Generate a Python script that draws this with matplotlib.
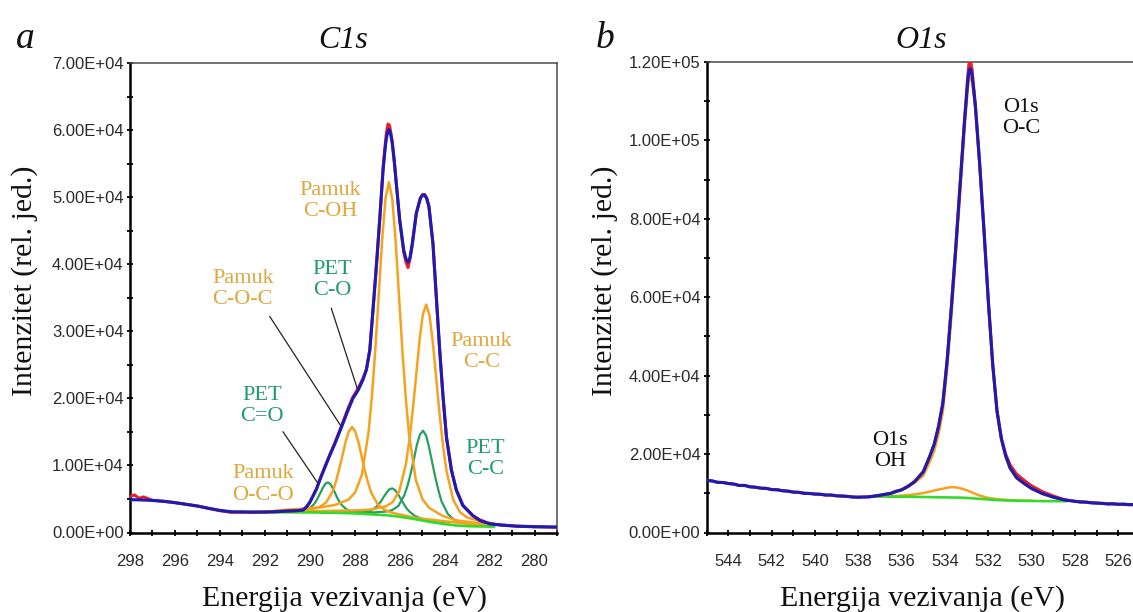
import matplotlib
matplotlib.use("Agg")
import matplotlib.pyplot as plt
from matplotlib.ticker import MultipleLocator, FormatStrFormatter

# ---------------- C1s region ----------------
c1s_env_e = [298.0, 297.5, 297.0, 296.5, 296.0, 295.5, 295.0, 294.5, 294.0, 293.5, 293.0,
             292.5, 292.0, 291.5, 291.0, 290.6, 290.3, 290.15, 290.0, 289.85, 289.7, 289.56,
             289.33, 289.11, 288.89, 288.59, 288.3, 288.08, 287.85, 287.63, 287.48, 287.33,
             287.19, 287.04, 286.89, 286.74, 286.65, 286.59, 286.53, 286.48, 286.41, 286.33,
             286.24, 286.15, 286.0, 285.82, 285.72, 285.63, 285.54, 285.44, 285.26, 285.08,
             284.98, 284.89, 284.8, 284.7, 284.52, 284.37, 284.22, 284.07, 283.92, 283.7,
             283.48, 283.19, 282.74, 282.44, 282.0, 281.5, 280.8, 280.0, 279.0]
c1s_env_i = [4900, 4850, 4780, 4650, 4450, 4200, 3950, 3600, 3300, 3100, 3050,
             3050, 3050, 3100, 3200, 3250, 3350, 3800, 4500, 5500, 6500, 7800,
             9700, 11500, 13200, 15700, 18200, 20000, 21200, 22800, 24300, 27200,
             33100, 39600, 46600, 54000, 57200, 58800, 59800, 60100, 59500, 58000,
             55300, 52000, 46600, 42100, 40800, 40300, 41000, 43100, 47600, 49800,
             50300, 50300, 49800, 48600, 43100, 35100, 27200, 20200, 14200, 9300,
             6300, 4000, 2500, 1800, 1300, 1100, 940, 850, 800]

c1s_raw_e = [298.0, 297.8, 297.6, 297.4, 297.0, 296.5, 296.0, 295.5, 295.0, 294.5, 294.0,
             293.5, 293.0, 292.5, 292.0, 291.5, 291.0, 290.6, 290.3, 290.15, 290.0, 289.85,
             289.7, 289.56, 289.33, 289.11, 288.89, 288.59, 288.3, 288.08, 287.85, 287.63,
             287.48, 287.33, 287.19, 287.04, 286.89, 286.74, 286.65, 286.59, 286.52, 286.45,
             286.33, 286.24, 286.15, 286.0, 285.82, 285.72, 285.63, 285.54, 285.44, 285.26,
             285.08, 284.98, 284.89, 284.8, 284.7, 284.52, 284.37, 284.22, 284.07, 283.92,
             283.7, 283.48, 283.19, 282.74, 282.44, 282.0, 281.5, 280.8, 280.0, 279.0]
c1s_raw_i = [5400, 5600, 5100, 5300, 4800, 4650, 4450, 4200, 3950, 3600, 3250,
             3000, 3050, 3000, 3050, 3100, 3200, 3250, 3350, 3800, 4500, 5500,
             6500, 7800, 9800, 11600, 13300, 15900, 18500, 20200, 21500, 23000,
             24300, 27200, 33100, 39600, 46600, 54300, 57600, 59600, 60900, 60700,
             58300, 55400, 52000, 46600, 41800, 40300, 39500, 40800, 42800, 47600,
             49900, 50400, 50400, 49900, 48700, 43100, 35100, 27200, 20200, 14300,
             9400, 6400, 4100, 2500, 1900, 1300, 1150, 950, 880, 800]

c1s_bg_e = [293.1, 292.0, 291.0, 290.0, 289.0, 288.5, 288.0, 287.5, 287.0, 286.5, 286.0,
            285.5, 285.0, 284.5, 284.0, 283.5, 283.0, 282.5, 281.8]
c1s_bg_i = [3100, 3050, 3000, 3000, 2950, 2900, 2850, 2750, 2650, 2550, 2350,
            2100, 1800, 1500, 1250, 1050, 950, 900, 880]

# PET components
pet_co2_e = [291.5, 291.33, 290.9, 290.48, 290.26, 290.05, 289.84, 289.73, 289.63, 289.52,
             289.41, 289.31, 289.2, 289.09, 288.99, 288.88, 288.78, 288.67, 288.56, 288.35,
             288.14, 287.93, 287.5, 287.08]
pet_co2_i = [3050, 3070, 3110, 3180, 3280, 3530, 4120, 4620, 5250, 5980,
             6700, 7260, 7470, 7240, 6660, 5920, 5180, 4530, 4030, 3410,
             3150, 3020, 2860, 2730]

pet_co_e = [289.5, 288.83, 288.33, 287.83, 287.58, 287.33, 287.08, 286.96, 286.83, 286.71,
            286.58, 286.46, 286.33, 286.21, 286.08, 285.96, 285.83, 285.71, 285.58, 285.33,
            285.08, 284.83, 284.33, 283.83]
pet_co_i = [3010, 3000, 2970, 2980, 3020, 3200, 3690, 4110, 4670, 5310,
            5950, 6430, 6580, 6330, 5760, 5040, 4320, 3680, 3160, 2480,
            2130, 1870, 1510, 1250]

pet_cc_e = [290.5, 287.71, 287.16, 286.61, 286.34, 286.06, 285.79, 285.65, 285.51, 285.37,
            285.24, 285.10, 284.96, 284.82, 284.69, 284.55, 284.41, 284.27, 284.14, 283.86,
            283.59, 283.31, 282.76, 282.21]
pet_cc_i = [3060, 3000, 3000, 3120, 3330, 3950, 5580, 6990, 8810, 10890,
            13000, 14600, 15180, 14430, 12670, 10400, 8160, 6200, 4660, 2770,
            1930, 1560, 1240, 1090]

# Cotton (Pamuk) components
pam_coc_e = [291.5, 291.0, 290.42, 289.85, 289.56, 289.27, 288.98, 288.84, 288.70, 288.55,
             288.41, 288.26, 288.12, 287.98, 287.83, 287.69, 287.55, 287.40, 287.26, 286.97,
             286.68, 286.40, 285.82, 285.25, 282.0]
pam_coc_i = [3140, 3200, 3300, 3530, 3810, 4490, 6150, 7540, 9350, 11420,
             13490, 15100, 15710, 15070, 13420, 11300, 9190, 7340, 5900, 4150,
             3400, 3000, 2560, 2150, 930]

pam_coh_e = [291.5, 289.48, 288.88, 288.28, 287.98, 287.68, 287.38, 287.23, 287.08, 286.93,
             286.78, 286.63, 286.48, 286.33, 286.18, 286.03, 285.88, 285.73, 285.58, 285.28,
             284.98, 284.68, 284.08, 283.48, 282.2]
pam_coh_i = [3280, 3765, 4110, 4896, 5976, 8626, 15100, 20540, 27520, 35540,
             43610, 49840, 52240, 49740, 43420, 35260, 27140, 20060, 14520, 7810,
             4920, 3650, 2460, 1810, 1260]

pam_cc_e = [290.4, 287.82, 287.22, 286.62, 286.32, 286.02, 285.72, 285.57, 285.42, 285.27,
            285.12, 284.97, 284.82, 284.67, 284.52, 284.37, 284.22, 284.07, 283.92, 283.62,
            283.32, 283.02, 282.42, 281.82]
pam_cc_i = [3150, 3310, 3450, 3900, 4510, 6150, 10250, 13730, 18200, 23340,
            28520, 32500, 33990, 32320, 28160, 22820, 17510, 12880, 9260, 4890,
            3050, 2280, 1660, 1380]

# ---------------- O1s region ----------------
o1s_env_e = [545.0, 544.75, 544.5, 544.25, 544.0, 543.75, 543.5, 543.25, 543.0, 542.75,
             542.5, 542.25, 542.0, 541.75, 541.5, 541.25, 541.0, 540.75, 540.5, 540.25,
             540.0, 539.75, 539.5, 539.25, 539.0, 538.75, 538.5, 538.25, 538.0, 537.5,
             537.0, 536.5, 536.0, 535.7, 535.4, 535.0, 534.7, 534.5, 534.3, 534.1, 533.9,
             533.7, 533.5, 533.3, 533.1, 532.95, 532.9, 532.85, 532.8, 532.75, 532.6, 532.4,
             532.2, 532.0, 531.8, 531.6, 531.4, 531.2, 531.0, 530.7, 530.3, 530.0, 529.5,
             529.0, 528.5, 528.0, 527.75, 527.5, 527.25, 527.0, 526.75, 526.5, 526.25, 526.0,
             525.75, 525.5, 525.25, 525.0]
o1s_env_i = [13300, 13150, 12800, 12750, 12500, 12350, 12000, 12000, 11650, 11550,
             11300, 11250, 10950, 10900, 10650, 10550, 10300, 10250, 10000, 9950,
             9800, 9750, 9550, 9550, 9350, 9300, 9200, 9050, 9000, 9100,
             9500, 10000, 10900, 11800, 13000, 15500, 19500, 22500, 27000, 33000, 44000,
             58000, 73000, 89000, 105000, 115000, 117300, 118300, 118000, 116500, 109000, 94000,
             77000, 59000, 43000, 31000, 24000, 19500, 16500, 14000, 12300, 11200, 9900,
             9000, 8300, 7950, 7750, 7750, 7550, 7500, 7450, 7300, 7350, 7200,
             7250, 7100, 7150, 7000]

o1s_raw_e = [545.0, 544.75, 544.5, 544.25, 544.0, 543.75, 543.5, 543.25, 543.0, 542.75,
             542.5, 542.25, 542.0, 541.75, 541.5, 541.25, 541.0, 540.75, 540.5, 540.25,
             540.0, 539.75, 539.5, 539.25, 539.0, 538.75, 538.5, 538.25, 538.0, 537.5,
             537.0, 536.5, 536.3, 536.0, 535.7, 535.4, 535.0, 534.7, 534.5, 534.3, 534.1,
             533.9, 533.7, 533.5, 533.3, 533.1, 532.95, 532.9, 532.85, 532.8, 532.75, 532.6,
             532.4, 532.2, 532.0, 531.8, 531.6, 531.4, 531.2, 531.0, 530.7, 530.3, 530.0,
             529.5, 529.0, 528.5, 528.0, 527.5, 527.0, 526.5, 526.0, 525.5, 525.0]
o1s_raw_i = [13300, 13150, 12800, 12750, 12500, 12350, 12000, 12000, 11650, 11550,
             11300, 11250, 10950, 10900, 10650, 10550, 10300, 10250, 10000, 9950,
             9800, 9750, 9550, 9550, 9350, 9300, 9200, 9050, 9000, 9100,
             9500, 10000, 10500, 10900, 11800, 13000, 15500, 19500, 22500, 27000, 33000,
             44000, 58000, 73000, 89000, 105000, 116500, 119300, 120500, 119600, 118000, 109000,
             94000, 77000, 59000, 43000, 31000, 24000, 20000, 17300, 14900, 13100, 11900,
             10400, 9300, 8400, 7950, 7750, 7500, 7300, 7200, 7100, 7000]

o1s_oc_e = [537.3, 537.0, 536.5, 536.0, 535.7, 535.4, 535.0, 534.7, 534.5, 534.3, 534.1,
            533.9, 533.7, 533.5, 533.3, 533.1, 532.95, 532.85, 532.75, 532.6, 532.4, 532.2,
            532.0, 531.8, 531.6, 531.4, 531.2, 531.0, 530.7, 530.3, 530.0, 529.5, 529.0,
            528.5, 528.4]
o1s_oc_i = [9150, 9450, 9950, 10800, 11650, 12700, 14500, 18100, 20800, 25000, 30800,
            41600, 55300, 70500, 86500, 102500, 113000, 116700, 115000, 107800, 93000, 76100,
            58200, 42400, 30500, 23600, 19200, 16200, 13800, 12200, 11100, 9850, 8950,
            8300, 8200]

o1s_oh_e = [537.3, 536.5, 536.0, 535.5, 535.0, 534.5, 534.0, 533.7, 533.4, 533.0, 532.7,
            532.5, 532.0, 531.5, 531.0, 530.5, 530.0]
o1s_oh_i = [9200, 9250, 9400, 9650, 10050, 10700, 11300, 11600, 11450, 10800, 10100,
            9600, 8800, 8450, 8250, 8150, 8100]

o1s_bg_e = [537.3, 536.5, 535.5, 534.5, 534.0, 533.3, 532.8, 532.2, 531.5, 530.7, 529.5, 528.4]
o1s_bg_i = [9200, 9150, 9100, 9000, 8950, 8900, 8750, 8500, 8250, 8100, 8000, 8000]

# tick settings
c1s_xticks = [298, 296, 294, 292, 290, 288, 286, 284, 282, 280]
o1s_xticks = [544, 542, 540, 538, 536, 534, 532, 530, 528, 526]

# ---------------- styling ----------------
BLUE = "#1c1cb4"
RED = "#e8202a"
ORANGE = "#f5a31f"
GREEN = "#26a05e"
LIME = "#35db2a"
ORANGE_TXT = "#dfa63a"
GREEN_TXT = "#1f9c6c"
SERIF = "Liberation Serif"
TICKFONT = ["Liberation Sans", "DejaVu Sans"]

W, H = 1133, 612
fig = plt.figure(figsize=(W / 100, H / 100), dpi=100)
fig.patch.set_facecolor("white")


def px_axes(x0, x1, y_top, y_bot):
    return [x0 / W, 1 - y_bot / H, (x1 - x0) / W, (y_bot - y_top) / H]


ax1 = fig.add_axes(px_axes(130, 557, 63, 532.5))
ax2 = fig.add_axes(px_axes(706.7, 1140, 62, 532.5))


def style_axes(ax, xlim, ylim, xticks, ymajor, yminor):
    ax.set_xlim(*xlim)
    ax.set_ylim(*ylim)
    ax.set_xticks(xticks)
    ax.xaxis.set_minor_locator(MultipleLocator(1))
    ax.yaxis.set_major_locator(MultipleLocator(ymajor))
    ax.yaxis.set_minor_locator(MultipleLocator(yminor))
    ax.yaxis.set_major_formatter(FormatStrFormatter("%.2E"))
    for side in ("left", "bottom"):
        ax.spines[side].set_linewidth(1.8)
        ax.spines[side].set_color("black")
    for side in ("top", "right"):
        ax.spines[side].set_linewidth(1.1)
        ax.spines[side].set_color("#4a4a4a")
    ax.tick_params(axis="both", which="both", direction="inout", length=5,
                   width=1.3, color="black", top=False, right=False)
    ax.tick_params(axis="x", which="major", pad=13)
    ax.tick_params(axis="y", which="major", pad=2)
    for lab in ax.get_xticklabels() + ax.get_yticklabels():
        lab.set_fontfamily(TICKFONT)
        lab.set_fontsize(12)
        lab.set_color("#2a2a2a")


# ---- C1s panel ----
for e, i in [(pet_co2_e, pet_co2_i), (pet_co_e, pet_co_i), (pet_cc_e, pet_cc_i)]:
    ax1.plot(e, i, color=GREEN, lw=1.6, solid_joinstyle="round", zorder=2)
for e, i in [(pam_coc_e, pam_coc_i), (pam_coh_e, pam_coh_i), (pam_cc_e, pam_cc_i)]:
    ax1.plot(e, i, color=ORANGE, lw=1.8, solid_joinstyle="round", zorder=2.5)
ax1.plot(c1s_bg_e, c1s_bg_i, color=LIME, lw=1.9, zorder=3)
ax1.plot(c1s_raw_e, c1s_raw_i, color=RED, lw=2.2, zorder=4)
ax1.plot(c1s_env_e, c1s_env_i, color=BLUE, lw=2.2, solid_joinstyle="round", zorder=5)

style_axes(ax1, (298, 279), (0, 70000), c1s_xticks, 10000, 5000)

c1s_labels = [
    ("Pamuk\nC-OH", 289.11, 49400, ORANGE_TXT),
    ("PET\nC-O", 289.02, 37600, GREEN_TXT),
    ("Pamuk\nC-O-C", 292.98, 36300, ORANGE_TXT),
    ("PET\nC=O", 292.13, 18800, GREEN_TXT),
    ("Pamuk\nO-C-O", 292.09, 7160, ORANGE_TXT),
    ("Pamuk\nC-C", 282.36, 26900, ORANGE_TXT),
    ("PET\nC-C", 282.18, 11000, GREEN_TXT),
]
for txt, e, i, col in c1s_labels:
    ax1.text(e, i, txt, ha="center", va="center", color=col, fontsize=16,
             family=SERIF, linespacing=1.15, zorder=6)

leaders = [((291.78, 32200), (288.64, 16000)),
           ((289.04, 33400), (287.89, 21500)),
           ((291.19, 15000), (289.63, 7300))]
for (e0, i0), (e1, i1) in leaders:
    ax1.plot([e0, e1], [i0, i1], color="#222222", lw=0.9, zorder=6)

# ---- O1s panel ----
ax2.plot(o1s_oh_e, o1s_oh_i, color=ORANGE, lw=1.8, zorder=2)
ax2.plot(o1s_oc_e, o1s_oc_i, color=ORANGE, lw=1.8, zorder=2)
ax2.plot(o1s_bg_e, o1s_bg_i, color=LIME, lw=1.9, zorder=3)
ax2.plot(o1s_raw_e, o1s_raw_i, color=RED, lw=2.2, zorder=4)
ax2.plot(o1s_env_e, o1s_env_i, color=BLUE, lw=2.2, solid_joinstyle="round", zorder=5)

style_axes(ax2, (545, 525), (0, 120000), o1s_xticks, 20000, 10000)

ax2.text(530.5, 105700, "O1s\nO-C", ha="center", va="center", color="#111111",
         fontsize=16, family=SERIF, linespacing=1.15)
ax2.text(536.54, 20700, "O1s\nOH", ha="center", va="center", color="#111111",
         fontsize=16, family=SERIF, linespacing=1.15)

# ---- titles, panel letters, axis labels ----
fig.text(343.5 / W, 1 - 47.5 / H, "C1s", ha="center", va="baseline", fontsize=23,
         family=SERIF, style="italic", color="#111111")
fig.text(921 / W, 1 - 47.5 / H, "O1s", ha="center", va="baseline", fontsize=23,
         family=SERIF, style="italic", color="#111111")
fig.text(16 / W, 1 - 47.5 / H, "a", ha="left", va="baseline", fontsize=27,
         family=SERIF, style="italic", color="#111111")
fig.text(596 / W, 1 - 48 / H, "b", ha="left", va="baseline", fontsize=27,
         family=SERIF, style="italic", color="#111111")

for xc in (25, 605):
    fig.text(xc / W, 1 - 281 / H, "Intenzitet (rel. jed.)", rotation=90,
             ha="center", va="center", fontsize=21.5, family=SERIF, color="#111111")
for xc in (345, 923):
    fig.text(xc / W, 1 - 606 / H, "Energija vezivanja (eV)", ha="center",
             va="baseline", fontsize=21.5, family=SERIF, color="#111111")

fig.savefig("out.png", dpi=100, facecolor="white")
